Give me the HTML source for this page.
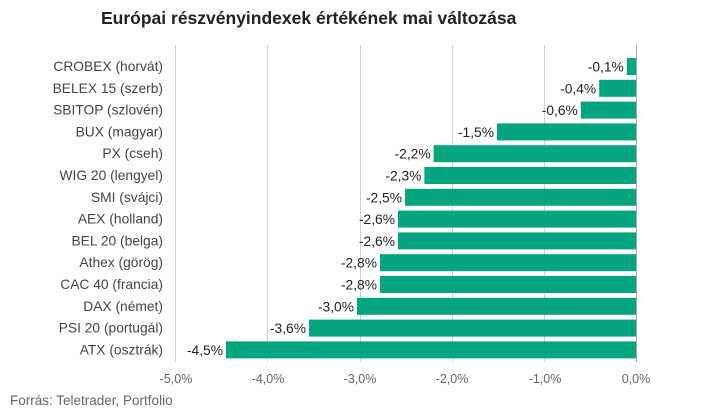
<!DOCTYPE html>
<html><head><meta charset="utf-8"><style>
body{margin:0;background:#fff;}
svg{display:block;font-family:"Liberation Sans",sans-serif;}
</style></head><body>
<svg width="713" height="417" xmlns="http://www.w3.org/2000/svg">
<text x="101" y="24" font-size="17.5" font-weight="bold" fill="#222">Európai részvényindexek értékének mai változása</text>
<g stroke="#d0d0d0" stroke-width="1">
<line x1="175.5" y1="45" x2="175.5" y2="362"/>
<line x1="267.5" y1="45" x2="267.5" y2="362"/>
<line x1="360.5" y1="45" x2="360.5" y2="362"/>
<line x1="452.5" y1="45" x2="452.5" y2="362"/>
<line x1="544.5" y1="45" x2="544.5" y2="362"/>
</g>
<g fill="#05a57f">
<rect x="626.8" y="58" width="9.2" height="17"/>
<rect x="599.2" y="79.8" width="36.8" height="17"/>
<rect x="580.8" y="101.6" width="55.2" height="17"/>
<rect x="497" y="123.4" width="139" height="17"/>
<rect x="433.6" y="145.2" width="202.4" height="17"/>
<rect x="424.4" y="167" width="211.6" height="17"/>
<rect x="405" y="188.8" width="231" height="17"/>
<rect x="398" y="210.6" width="238" height="17"/>
<rect x="398" y="232.4" width="238" height="17"/>
<rect x="380" y="254.2" width="256" height="17"/>
<rect x="380" y="276" width="256" height="17"/>
<rect x="357" y="297.8" width="279" height="17"/>
<rect x="309" y="319.6" width="327" height="17"/>
<rect x="226" y="341.4" width="410" height="17"/>
</g>
<line x1="636.5" y1="45" x2="636.5" y2="362" stroke="#aaa"/>
<g font-size="13.8" fill="#444" text-anchor="end">
<text x="163" y="71">CROBEX (horvát)</text>
<text x="163" y="92.8">BELEX 15 (szerb)</text>
<text x="163" y="114.6">SBITOP (szlovén)</text>
<text x="163" y="136.4">BUX (magyar)</text>
<text x="163" y="158.2">PX (cseh)</text>
<text x="163" y="180">WIG 20 (lengyel)</text>
<text x="163" y="201.8">SMI (svájci)</text>
<text x="163" y="223.6">AEX (holland)</text>
<text x="163" y="245.4">BEL 20 (belga)</text>
<text x="163" y="267.2">Athex (görög)</text>
<text x="163" y="289">CAC 40 (francia)</text>
<text x="163" y="310.8">DAX (német)</text>
<text x="163" y="332.6">PSI 20 (portugál)</text>
<text x="163" y="354.4">ATX (osztrák)</text>
</g>
<g font-size="13.8" fill="#222" text-anchor="end">
<text x="623.8" y="71.5">-0,1%</text>
<text x="596.2" y="93.3">-0,4%</text>
<text x="577.8" y="115.1">-0,6%</text>
<text x="494" y="136.9">-1,5%</text>
<text x="430.6" y="158.7">-2,2%</text>
<text x="421.4" y="180.5">-2,3%</text>
<text x="402" y="202.3">-2,5%</text>
<text x="395" y="224.1">-2,6%</text>
<text x="395" y="245.9">-2,6%</text>
<text x="377" y="267.7">-2,8%</text>
<text x="377" y="289.5">-2,8%</text>
<text x="354" y="311.3">-3,0%</text>
<text x="306" y="333.1">-3,6%</text>
<text x="223" y="354.9">-4,5%</text>
</g>
<g font-size="12.5" fill="#666" text-anchor="middle">
<text x="176" y="383">-5,0%</text><text x="268" y="383">-4,0%</text><text x="360" y="383">-3,0%</text>
<text x="452" y="383">-2,0%</text><text x="545" y="383">-1,0%</text><text x="636" y="383">0,0%</text>
</g>
<text x="10" y="405" font-size="13.5" fill="#666">Forrás: Teletrader, Portfolio</text>
</svg>
</body></html>
